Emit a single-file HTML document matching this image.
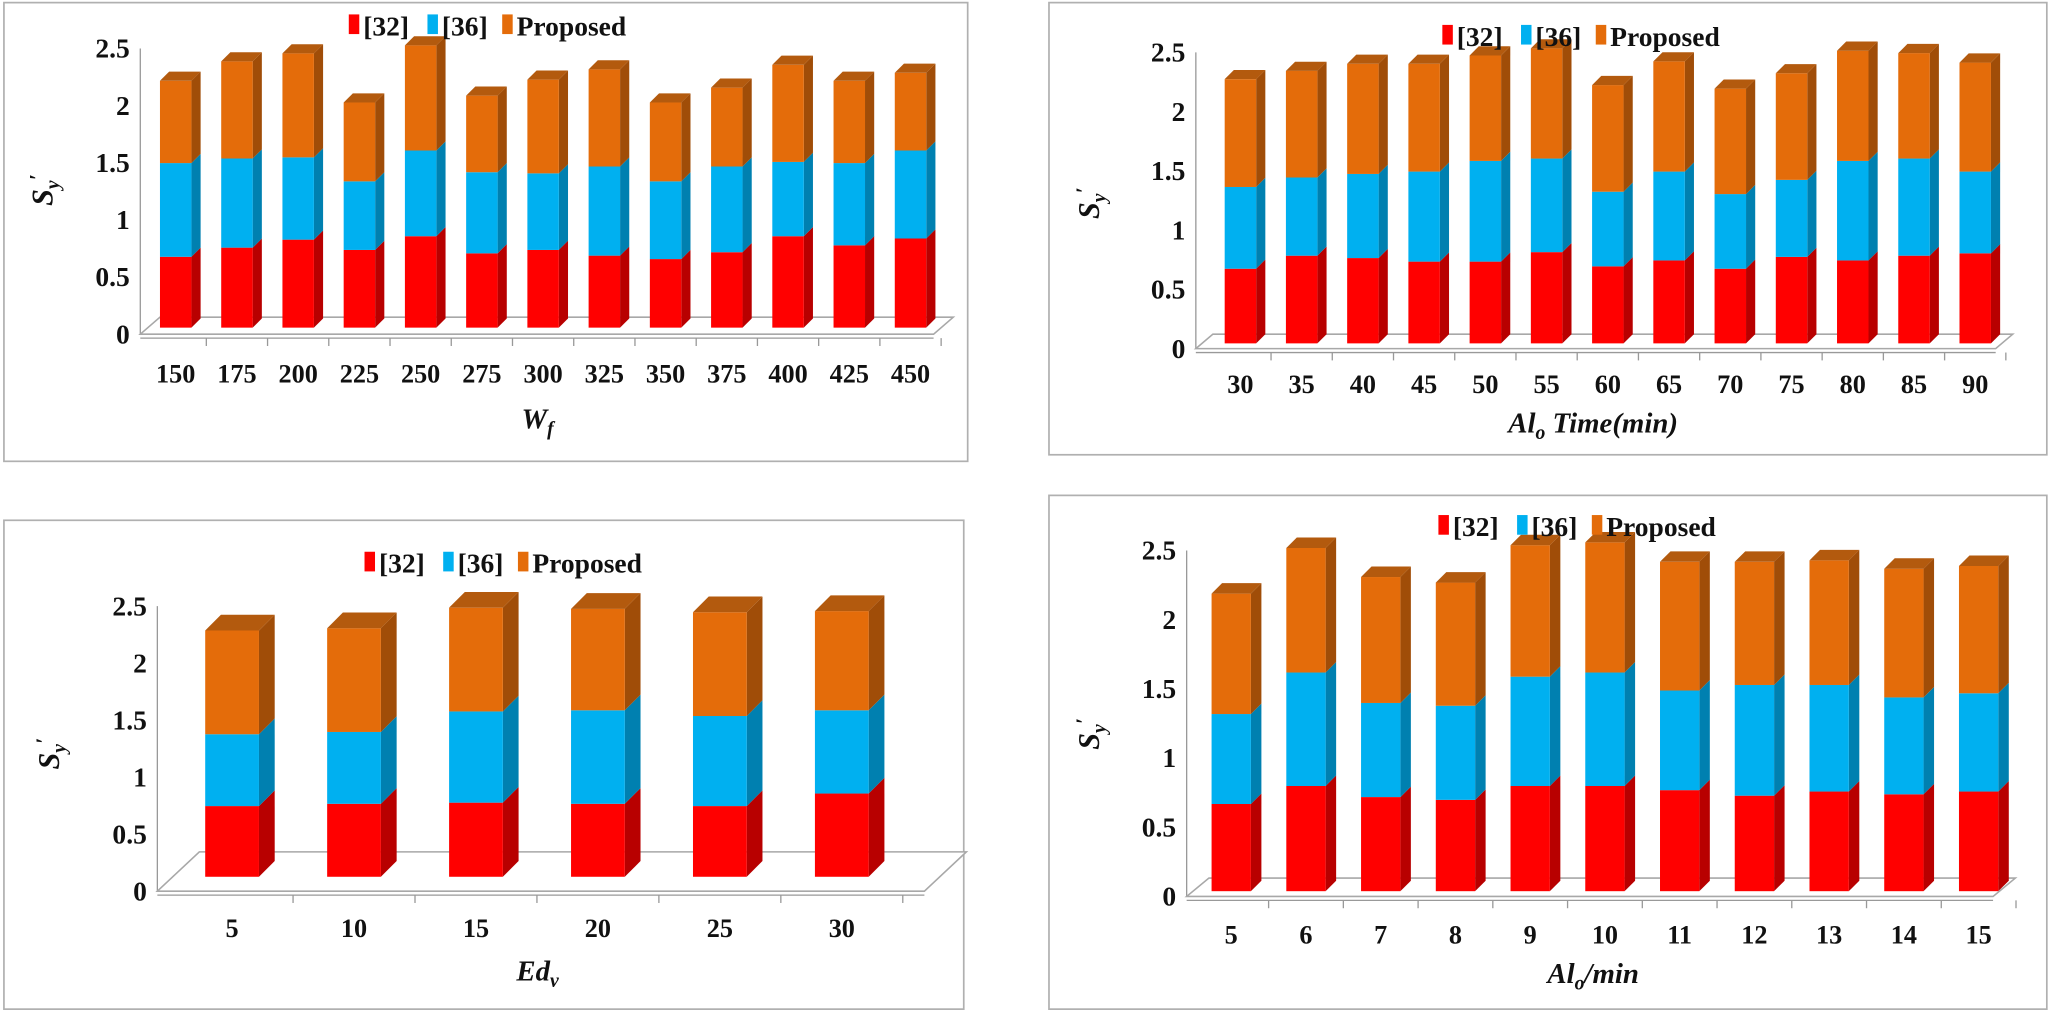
<!DOCTYPE html>
<html><head><meta charset="utf-8"><style>
html,body{margin:0;padding:0;background:#fff;width:2056px;height:1017px;overflow:hidden}
svg{display:block}
text{font-family:"Liberation Serif",serif;font-weight:bold;fill:#111}
</style></head><body>
<svg id="root" width="2056" height="1017" viewBox="0 0 1568 776" preserveAspectRatio="none" xmlns="http://www.w3.org/2000/svg"></svg>
<script>
// ---- chart 1 data ----
const c1Categories = ["150","175","200","225","250","275","300","325","350","375","400","425","450"];
const c1Ref32 = [0.62,0.70,0.77,0.68,0.80,0.65,0.68,0.63,0.60,0.66,0.80,0.72,0.78];
const c1Ref36 = [0.82,0.78,0.72,0.60,0.75,0.71,0.67,0.78,0.68,0.75,0.65,0.72,0.77];
const c1Proposed = [0.72,0.85,0.91,0.69,0.92,0.67,0.82,0.85,0.69,0.69,0.85,0.72,0.68];
// ---- chart 2 data ----
const c2Categories = ["30","35","40","45","50","55","60","65","70","75","80","85","90"];
const c2Ref32 = [0.63,0.74,0.72,0.69,0.69,0.77,0.65,0.70,0.63,0.73,0.70,0.74,0.76];
const c2Ref36 = [0.69,0.66,0.71,0.76,0.85,0.79,0.63,0.75,0.63,0.65,0.84,0.82,0.69];
const c2Proposed = [0.91,0.90,0.93,0.91,0.89,0.93,0.90,0.93,0.89,0.90,0.93,0.89,0.92];
// ---- chart 3 data ----
const c3Categories = ["5","10","15","20","25","30"];
const c3Ref32 = [0.62,0.64,0.65,0.64,0.62,0.73];
const c3Ref36 = [0.63,0.63,0.80,0.82,0.79,0.73];
const c3Proposed = [0.91,0.91,0.91,0.89,0.91,0.87];
// ---- chart 4 data ----
const c4Categories = ["5","6","7","8","9","10","11","12","13","14","15"];
const c4Ref32 = [0.63,0.76,0.68,0.66,0.76,0.76,0.73,0.69,0.72,0.70,0.72];
const c4Ref36 = [0.65,0.82,0.68,0.68,0.79,0.82,0.72,0.80,0.77,0.70,0.71];
const c4Proposed = [0.87,0.90,0.91,0.89,0.95,0.94,0.93,0.89,0.90,0.93,0.92];
const yTicks = [0,0.5,1,1.5,2,2.5];
const yTickLabels = ["0","0.5","1","1.5","2","2.5"];

const NS="http://www.w3.org/2000/svg";
const root=document.getElementById('root');
function mk(tag,attrs,parent){const e=document.createElementNS(NS,tag);for(const k in attrs)e.setAttribute(k,attrs[k]);(parent||root).appendChild(e);return e;}
const COL=[{f:"#ff0000",s:"#b80000",t:"#d00000"},{f:"#00b0f0",s:"#0080b0",t:"#0098d0"},{f:"#e46c0a",s:"#a04d08",t:"#b35a0e"}];

const charts=[
 {id:"c1",cats:c1Categories,series:[c1Ref32,c1Ref36,c1Proposed],panel:[3,2,735,350],ax:107,y0:255,unit:87.2,fdx:15,fdy:13,fx2:712,base:250,x0:134,pitch:46.7,w:24,d:7,ly:292,title:"W",sub:"f",tx:410,ty:327,lgx:266,lgy:20,ytx:40,yty:145},
 {id:"c2",cats:c2Categories,series:[c2Ref32,c2Ref36,c2Proposed],panel:[800,2,761,345],ax:912,y0:266,unit:90.4,fdx:13,fdy:11,fx2:1522,base:262,x0:946,pitch:46.7,w:24,d:7,ly:300,title:"Al",sub:"o",post:" Time(min)",tx:1215,ty:330,lgx:1100,lgy:28,ytx:838,yty:155},
 {id:"c3",cats:c3Categories,series:[c3Ref32,c3Ref36,c3Proposed],panel:[3,397,732,373],ax:120,y0:680,unit:87,fdx:32,fdy:30,fx2:705,base:669,x0:177,pitch:93,w:41,d:12,ly:715,title:"Ed",sub:"v",tx:410,ty:748,lgx:278,lgy:430,ytx:45,yty:575},
 {id:"c4",cats:c4Categories,series:[c4Ref32,c4Ref36,c4Proposed],panel:[800,378,761,392],ax:905,y0:684,unit:105.6,fdx:17,fdy:14,fx2:1520,base:680,x0:939,pitch:57,w:30,d:8,ly:720,title:"Al",sub:"o",post:"/min",tx:1215,ty:750,lgx:1097,lgy:402,ytx:838,yty:560}
];
const names=["[32]","[36]","Proposed"];

charts.forEach(c=>{
 const g=mk('g',{});
 
 
 const p=c.panel;
 const pr=mk('rect',{x:p[0],y:p[1],width:p[2],height:p[3],fill:"#fff",stroke:"#b0b0b0","stroke-width":1.3},g);
 
 
 const yv=v=>c.y0-v*c.unit;
 const yl=mk('line',{x1:c.ax,y1:yv(2.5),x2:c.ax,y2:c.y0,stroke:"#999","stroke-width":1},g);
 
 
 yTicks.forEach((t,i)=>{
  const tt=mk('text',{x:c.ax-8,y:yv(t)+7,"text-anchor":"end","font-size":21},g);
  tt.textContent=yTickLabels[i];
  
  
 });
 const fl=mk('polygon',{points:`${c.ax},${c.y0} ${c.fx2},${c.y0} ${c.fx2+c.fdx},${c.y0-c.fdy} ${c.ax+c.fdx},${c.y0-c.fdy}`,fill:"#fff",stroke:"#a8a8a8","stroke-width":1.2},g);
 
 
 const xl=mk('line',{x1:c.ax,y1:c.y0+3,x2:c.fx2,y2:c.y0+3,stroke:"#999","stroke-width":1},g);
 
 
 c.cats.forEach((cat,i)=>{
  const cx=c.x0+i*c.pitch;
  const tk=mk('line',{x1:cx+c.pitch/2,y1:c.y0+3,x2:cx+c.pitch/2,y2:c.y0+9,stroke:"#999","stroke-width":1},g);
  
  
  const lt=mk('text',{x:cx,y:c.ly,"text-anchor":"middle","font-size":20},g);
  lt.textContent=cat;
  
  
  let cum=0;
  const x=cx-c.w/2, d=c.d;
  c.series.forEach((arr,s)=>{
   const v=arr[i];
   const yb=c.base-cum*c.unit, yt=c.base-(cum+v)*c.unit;
   cum+=v;
   const bg=mk('g',{},g);
   
   
   mk('polygon',{points:`${x+c.w},${yb} ${x+c.w+d},${yb-d} ${x+c.w+d},${yt-d} ${x+c.w},${yt}`,fill:COL[s].s},bg);
   mk('rect',{x:x,y:yt,width:c.w,height:yb-yt,fill:COL[s].f},bg);
   if(s===2) mk('polygon',{points:`${x},${yt} ${x+d},${yt-d} ${x+c.w+d},${yt-d} ${x+c.w},${yt}`,fill:COL[s].t},bg);
  });
 });
 let lx=c.lgx;
 names.forEach((n,s)=>{
  const lg=mk('g',{},g);
  
  
  mk('rect',{x:lx,y:c.lgy-9,width:8,height:15,fill:COL[s].f},lg);
  const t=mk('text',{x:lx+11,y:c.lgy+7,"font-size":21},lg);
  t.textContent=n;
  lx+= s===0?60:57;
 });
 const xt=mk('text',{x:c.tx,y:c.ty,"text-anchor":"middle","font-size":22,"font-style":"italic"},g);
 
 
 const a=document.createElementNS(NS,'tspan');a.textContent=c.title;xt.appendChild(a);
 const b=document.createElementNS(NS,'tspan');b.setAttribute('font-size','15');b.setAttribute('dy','5');b.textContent=c.sub;xt.appendChild(b);
 if(c.post){const e=document.createElementNS(NS,'tspan');e.setAttribute('dy','-5');e.textContent=c.post;xt.appendChild(e);}
 const yt=mk('text',{x:0,y:0,"text-anchor":"middle","font-size":23,"font-style":"italic",transform:`translate(${c.ytx},${c.yty}) rotate(-90)`},g);
 
 
 const s1=document.createElementNS(NS,'tspan');s1.textContent="S";yt.appendChild(s1);
 const s2=document.createElementNS(NS,'tspan');s2.setAttribute('font-size','15');s2.setAttribute('dy','5');s2.textContent="y";yt.appendChild(s2);
 const s3=document.createElementNS(NS,'tspan');s3.setAttribute('dy','-11');s3.setAttribute('font-size','17');s3.textContent="′";yt.appendChild(s3);
});
</script>
</body></html>
